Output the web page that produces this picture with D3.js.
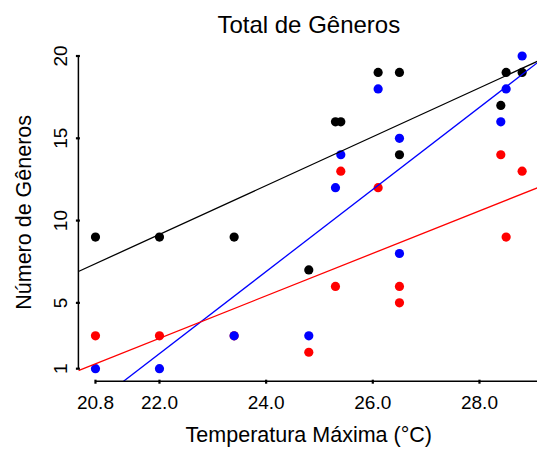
<!DOCTYPE html>
<html>
<head>
<meta charset="utf-8">
<script src="https://cdn.jsdelivr.net/npm/d3@7"></script>
<style>
  body { margin: 0; background: #fff; }
  text { font-family: "Liberation Sans", Arial, sans-serif; fill: #000; }
</style>
</head>
<body>
<div id="wrapper"></div>
<script>
// data
const temperatura = [20.8, 22.0, 23.4, 24.8, 25.3, 25.4, 26.1, 26.5, 26.5, 28.4, 28.5, 28.8]
const totalGeneros = [9, 9, 9, 7, 16, 16, 19, 19, 14, 17, 19, 19]
const generosAzul = [1, 1, 3, 3, 12, 14, 18, 15, 8, 16, 18, 20]
const generosVermelho = [3, 3, 3, 2, 6, 13, 12, 6, 5, 14, 9, 13]

const xTicks = [20.8, 22, 24, 26, 28]
const yTicks = [1, 5, 10, 15, 20]

const series = [
  { name: "total", values: totalGeneros, color: "black" },
  { name: "vermelho", values: generosVermelho, color: "red" },
  { name: "azul", values: generosAzul, color: "blue" }
]

function drawChart() {
  // 1. dimensions
  let dimensions = {
    width: 537,
    height: 449,
    margin: { top: 43.5, right: -2.2, bottom: 67.8, left: 78.4 }
  }
  dimensions.boundedWidth = dimensions.width - dimensions.margin.left - dimensions.margin.right
  dimensions.boundedHeight = dimensions.height - dimensions.margin.top - dimensions.margin.bottom

  const svg = d3.select("#wrapper")
    .append("svg")
    .attr("width", dimensions.width)
    .attr("height", dimensions.height)

  const bounds = svg.append("g")
    .attr("transform", `translate(${dimensions.margin.left},${dimensions.margin.top})`)

  // 2. scales (R style 4% padding)
  const pad = ([a, b]) => [a - 0.04 * (b - a), b + 0.04 * (b - a)]
  const xExtent = d3.extent(temperatura)
  const yExtent = d3.extent(series.flatMap(s => s.values))

  const xScale = d3.scaleLinear()
    .domain(pad(xExtent))
    .range([0, dimensions.boundedWidth])

  const yScale = d3.scaleLinear()
    .domain(pad(yExtent))
    .range([dimensions.boundedHeight, 0])

  bounds.append("clipPath").attr("id", "plot-clip")
    .append("rect")
    .attr("width", dimensions.boundedWidth)
    .attr("height", dimensions.boundedHeight)

  // 3. points
  series.forEach(s => {
    bounds.append("g")
      .selectAll("circle")
      .data(s.values.map((v, i) => [temperatura[i], v]))
      .join("circle")
      .attr("cx", d => xScale(d[0]))
      .attr("cy", d => yScale(d[1]))
      .attr("r", 4.6)
      .attr("fill", s.color)
  })

  // 4. least squares lines (abline(lm(y ~ x)))
  const fit = ys => {
    const mx = d3.mean(temperatura)
    const my = d3.mean(ys)
    const sxy = d3.sum(temperatura, (x, i) => (x - mx) * (ys[i] - my))
    const sxx = d3.sum(temperatura, x => (x - mx) ** 2)
    const b = sxy / sxx
    return x => my + b * (x - mx)
  }

  const linesGroup = bounds.append("g").attr("clip-path", "url(#plot-clip)")
  ;[series[0], series[2], series[1]].forEach(s => {
    const f = fit(s.values)
    const [x0, x1] = xScale.domain()
    linesGroup.append("line")
      .attr("x1", xScale(x0))
      .attr("y1", yScale(f(x0)))
      .attr("x2", xScale(x1))
      .attr("y2", yScale(f(x1)))
      .attr("stroke", s.color)
      .attr("stroke-width", 1.3)
  })

  // 5. axes
  const xAxis = bounds.append("g")
    .attr("transform", `translate(0,${dimensions.boundedHeight})`)
  xAxis.append("line")
    .attr("x1", xScale(xTicks[0]))
    .attr("x2", dimensions.boundedWidth + 5)
    .attr("stroke", "black")
    .attr("stroke-width", 1.5)
  xAxis.selectAll(".tick")
    .data(xTicks)
    .join("line")
    .attr("x1", d => xScale(d))
    .attr("x2", d => xScale(d))
    .attr("y1", -1.5)
    .attr("y2", 2.5)
    .attr("stroke", "black")
    .attr("stroke-width", 2.2)
  xAxis.selectAll("text.tick-label")
    .data(xTicks)
    .join("text")
    .attr("class", "tick-label")
    .attr("x", d => xScale(d))
    .attr("y", 27.5)
    .attr("text-anchor", "middle")
    .style("font-size", "19px")
    .text(d3.format(".1f"))

  const yAxis = bounds.append("g")
  yAxis.append("line")
    .attr("y1", yScale(yTicks[0]))
    .attr("y2", yScale(yTicks[yTicks.length - 1]))
    .attr("stroke", "black")
    .attr("stroke-width", 1.5)
  yAxis.selectAll(".tick")
    .data(yTicks)
    .join("line")
    .attr("x1", -2.5)
    .attr("x2", 1.5)
    .attr("y1", d => yScale(d))
    .attr("y2", d => yScale(d))
    .attr("stroke", "black")
    .attr("stroke-width", 2.2)
  yAxis.selectAll("text.tick-label")
    .data(yTicks)
    .join("text")
    .attr("class", "tick-label")
    .attr("transform", d => `translate(-11.5,${yScale(d)}) rotate(-90)`)
    .attr("text-anchor", "middle")
    .style("font-size", "19px")
    .text(d => d)

  // 6. labels
  svg.append("text")
    .attr("x", dimensions.margin.left + dimensions.boundedWidth / 2)
    .attr("y", 33)
    .attr("text-anchor", "middle")
    .style("font-size", "24px")
    .text("Total de Gêneros")

  svg.append("text")
    .attr("x", dimensions.margin.left + dimensions.boundedWidth / 2)
    .attr("y", 442)
    .attr("text-anchor", "middle")
    .style("font-size", "21.5px")
    .text("Temperatura Máxima (°C)")

  svg.append("text")
    .attr("transform", `translate(31,${dimensions.margin.top + dimensions.boundedHeight / 2}) rotate(-90)`)
    .attr("text-anchor", "middle")
    .style("font-size", "21.5px")
    .text("Número de Gêneros")
}

drawChart()
</script>
</body>
</html>
